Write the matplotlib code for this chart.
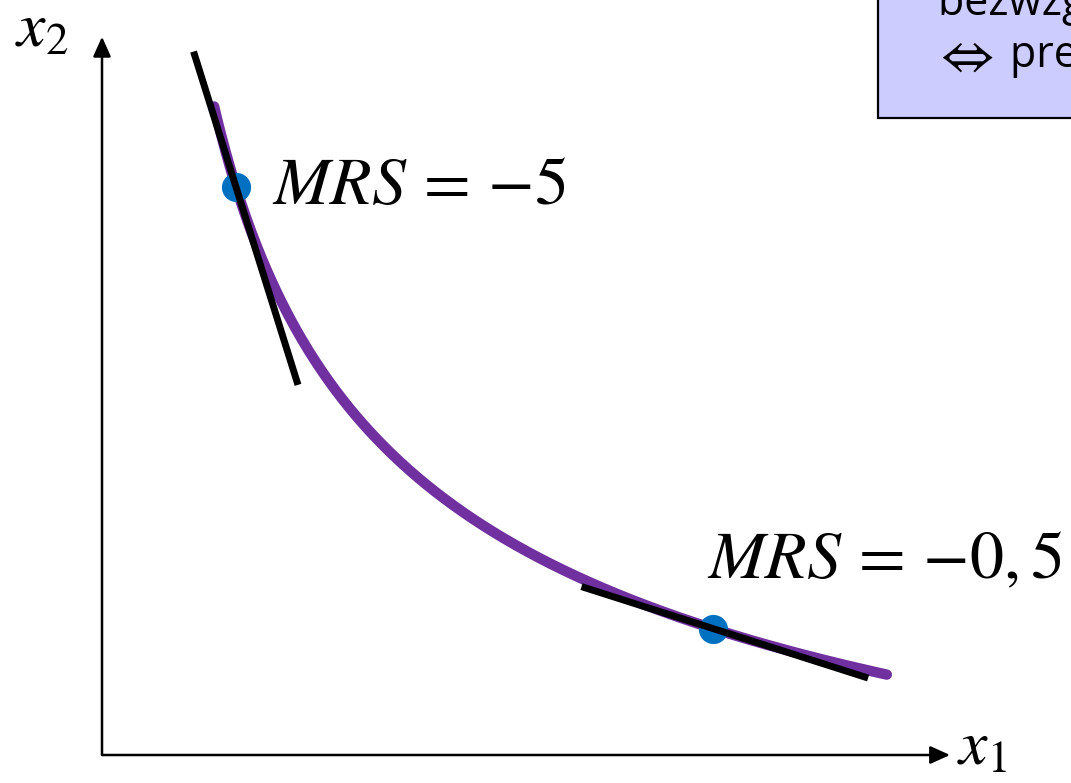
import numpy as np
import matplotlib
matplotlib.use("Agg")
import matplotlib.pyplot as plt
from matplotlib.patches import Rectangle

plt.rcParams["mathtext.fontset"] = "stix"

# Indifference curve x2 = c + k / (x1 - a)**p
curve_a = 0.175
curve_p = 0.431
curve_c = -5.848
curve_k = 19.05
curve_x_start = 1.33
curve_x_end = 9.31

# Points of tangency and the marginal rate of substitution there
tangent_x = [1.59, 7.248]
mrs_values = [-5, -0.5]
mrs_labels = [r"$MRS\,=\,{-5}$", r"$MRS\,=\,{-0,5}$"]
# Horizontal reach of each tangent segment (left, right of the point)
tangent_reach = [(-0.504, 0.735), (-1.56, 1.84)]

# Axis extents
x_axis_end = 10.06
y_axis_end = 13.35

box_line_1 = "bezwzględna wartość MRS maleje"
box_arrow = r"$\Leftrightarrow$"
box_line_2 = "preferencje wypukłe"


def indifference(x):
    return curve_c + curve_k / (np.asarray(x) - curve_a) ** curve_p


W, H = 1071, 783
fig = plt.figure(figsize=(W / 100, H / 100), dpi=100)
ax = fig.add_axes([0, 0, 1, 1])
ax.set_xlim(-1.2100, 11.4947)
ax.set_ylim(-0.5204, 14.0335)
ax.axis("off")

PURPLE = "#7030A0"
BLUE = "#0070C0"

# coordinate axes with arrowheads
arrow_kw = dict(arrowstyle="-|>,head_length=0.6,head_width=0.27",
                color="black", lw=1.8, mutation_scale=20,
                shrinkA=0, shrinkB=0)
ax.annotate("", xy=(x_axis_end, 0), xytext=(0, 0), arrowprops=arrow_kw)
ax.annotate("", xy=(0, y_axis_end), xytext=(0, 0), arrowprops=arrow_kw)

ax.text(-1.03, 13.16, r"$x_2$", fontsize=46, va="baseline", ha="left")
ax.text(10.14, -0.186, r"$x_1$", fontsize=46, va="baseline", ha="left")

# indifference curve
xs = np.linspace(curve_x_start, curve_x_end, 400)
ax.plot(xs, indifference(xs), color=PURPLE, lw=7.5,
        solid_capstyle="round", zorder=2)

label_offsets = [(26, -12), (-4, 36)]
for x0, m, (left, right), lab, off in zip(tangent_x, mrs_values,
                                          tangent_reach, mrs_labels,
                                          label_offsets):
    y0 = float(indifference(x0))
    tx = np.array([x0 + left, x0 + right])
    ax.plot(tx, y0 + m * (tx - x0), color="black", lw=5,
            solid_capstyle="butt", zorder=4)
    ax.plot([x0], [y0], "o", color=BLUE, ms=21, mec="none", zorder=3)
    ax.annotate(lab, xy=(x0, y0), xytext=off, textcoords="offset points",
                fontsize=49, va="baseline", ha="left")

# note box in the upper right corner
fig.patches.append(Rectangle((878 / W, 1 - 118 / H), 0.5, 0.5,
                             transform=fig.transFigure, facecolor="#CCCCFF",
                             edgecolor="black", lw=1.6, zorder=5))
box_font = ["Open Sans", "DejaVu Sans"]
fig.text(938 / W, 1 - 15 / H, box_line_1, fontsize=31, family=box_font,
         va="baseline", ha="left", zorder=6)
fig.text(933 / W, 1 - 72 / H, box_arrow, fontsize=40,
         va="baseline", ha="left", zorder=6)
fig.text(1010 / W, 1 - 67 / H, box_line_2, fontsize=31, family=box_font,
         va="baseline", ha="left", zorder=6)

fig.savefig("out.png", dpi=100)
